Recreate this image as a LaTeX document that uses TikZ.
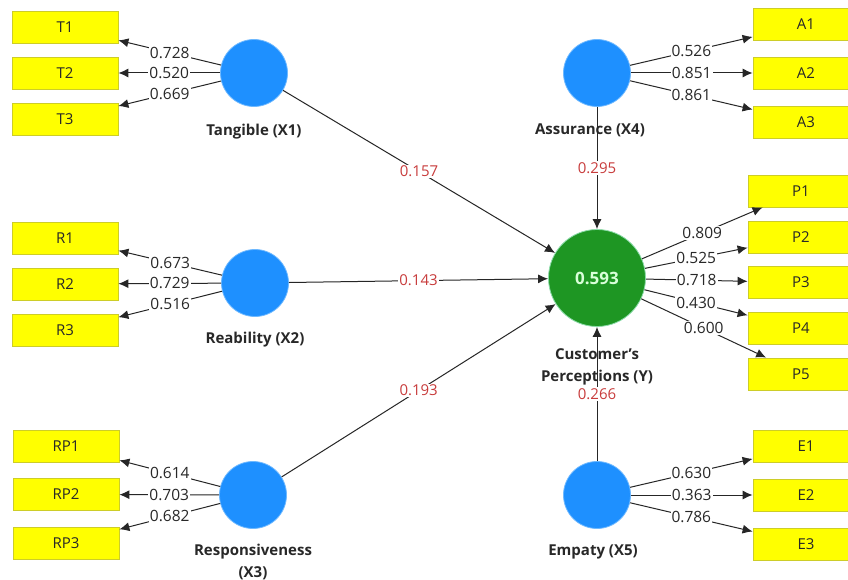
\documentclass[tikz,border=0pt]{standalone}
\usepackage{fontspec}
\setmainfont{Open Sans}
\usetikzlibrary{arrows.meta}
\definecolor{yfill}{RGB}{255,255,0}
\definecolor{yborder}{RGB}{205,205,40}
\definecolor{bfill}{RGB}{30,144,255}
\definecolor{bborder}{RGB}{110,185,255}
\definecolor{gfill}{RGB}{30,150,35}
\definecolor{gborder}{RGB}{140,220,170}
\definecolor{redlbl}{RGB}{200,60,60}
\definecolor{txt}{RGB}{40,40,40}
\begin{document}
\begin{tikzpicture}[x=1pt,y=-1pt,
 ind/.style={draw=yborder, fill=yfill, line width=0.8pt, minimum width=106pt, minimum height=32pt, inner sep=0pt, font=\fontsize{15}{17}\selectfont, text=txt},
 lat/.style={circle, fill=bfill, draw=bborder, line width=0.8pt, minimum size=67pt, inner sep=0pt},
 endo/.style={circle, fill=gfill, draw=gborder, line width=0.8pt, minimum size=97pt, inner sep=0pt, font=\bfseries\fontsize{17}{19}\selectfont, text=white!85!green},
 lvname/.style={font=\bfseries\fontsize{15}{22}\selectfont, text=txt, align=center},
 arr/.style={draw=black!85, line width=1pt, -{Latex[length=10pt,width=9pt]}},
 ld/.style={fill=white, inner sep=1pt, font=\fontsize{15.5}{17}\selectfont, text=txt},
 pc/.style={fill=white, inner sep=1pt, font=\fontsize{15}{17}\selectfont, text=redlbl},
]
\clip (0,0) rectangle (848,580);
\fill[white] (0,0) rectangle (848,580);

% indicators left
\node[ind] (T1) at (65,27.5) {T1};
\node[ind] (T2) at (65,73) {T2};
\node[ind] (T3) at (65,119) {T3};
\node[ind] (R1) at (65,238) {R1};
\node[ind] (R2) at (65,284) {R2};
\node[ind] (R3) at (65,330.5) {R3};
\node[ind] (RP1) at (66,446.5) {RP1};
\node[ind] (RP2) at (66,494.5) {RP2};
\node[ind] (RP3) at (66,543) {RP3};
% indicators right
\node[ind] (A1) at (806,24.5) {A1};
\node[ind] (A2) at (806,73) {A2};
\node[ind] (A3) at (806,122) {A3};
\node[ind] (P1) at (801,191) {P1};
\node[ind] (P2) at (801,237) {P2};
\node[ind] (P3) at (801,282.5) {P3};
\node[ind] (P4) at (801,328.5) {P4};
\node[ind] (P5) at (801,374) {P5};
\node[ind] (E1) at (806,446.5) {E1};
\node[ind] (E2) at (806,495) {E2};
\node[ind] (E3) at (806,544) {E3};

% latent variables
\node[lat] (X1) at (254,73) {};
\node[lat] (X2) at (255,283) {};
\node[lat] (X3) at (253,495) {};
\node[lat] (X4) at (597,73) {};
\node[lat] (X5) at (597,495) {};
\node[endo] (Y) at (597,278) {0.593};

% names
\node[lvname] (nX1) at (254,132) {Tangible (X1)};
\node[lvname] (nX2) at (255,340) {Reability (X2)};
\node[lvname] (nX3) at (253,562) {Responsiveness\\(X3)};
\node[lvname] (nX4) at (590,130) {Assurance (X4)};
\node[lvname] (nX5) at (593,552) {Empaty (X5)};

% outer loadings
\draw[arr] (X1) -- node[ld]{0.728} (T1);
\draw[arr] (X1) -- node[ld]{0.520} (T2);
\draw[arr] (X1) -- node[ld]{0.669} (T3);
\draw[arr] (X2) -- node[ld]{0.673} (R1);
\draw[arr] (X2) -- node[ld]{0.729} (R2);
\draw[arr] (X2) -- node[ld]{0.516} (R3);
\draw[arr] (X3) -- node[ld]{0.614} (RP1);
\draw[arr] (X3) -- node[ld]{0.703} (RP2);
\draw[arr] (X3) -- node[ld]{0.682} (RP3);
\draw[arr] (X4) -- node[ld]{0.526} (A1);
\draw[arr] (X4) -- node[ld]{0.851} (A2);
\draw[arr] (X4) -- node[ld]{0.861} (A3);
\draw[arr] (Y) -- node[ld]{0.809} (P1);
\draw[arr] (Y) -- node[ld]{0.525} (P2);
\draw[arr] (Y) -- node[ld]{0.718} (P3);
\draw[arr] (Y) -- node[ld]{0.430} (P4);
\draw[arr] (Y) -- node[ld]{0.600} (P5);
\draw[arr] (X5) -- node[ld]{0.630} (E1);
\draw[arr] (X5) -- node[ld]{0.363} (E2);
\draw[arr] (X5) -- node[ld]{0.786} (E3);

% path coefficients
\draw[arr] (X1) -- node[pc]{0.157} (Y);
\draw[arr] (X2) -- node[pc]{0.143} (Y);
\draw[arr] (X3) -- node[pc]{0.193} (Y);
\draw[arr] (X4) -- node[pc]{0.295} (Y);
\draw[arr] (X5) -- node[pc]{0.266} (Y);

\node[lvname] (nY) at (597,367) {Customer’s\\Perceptions (Y)};
\end{tikzpicture}
\end{document}
